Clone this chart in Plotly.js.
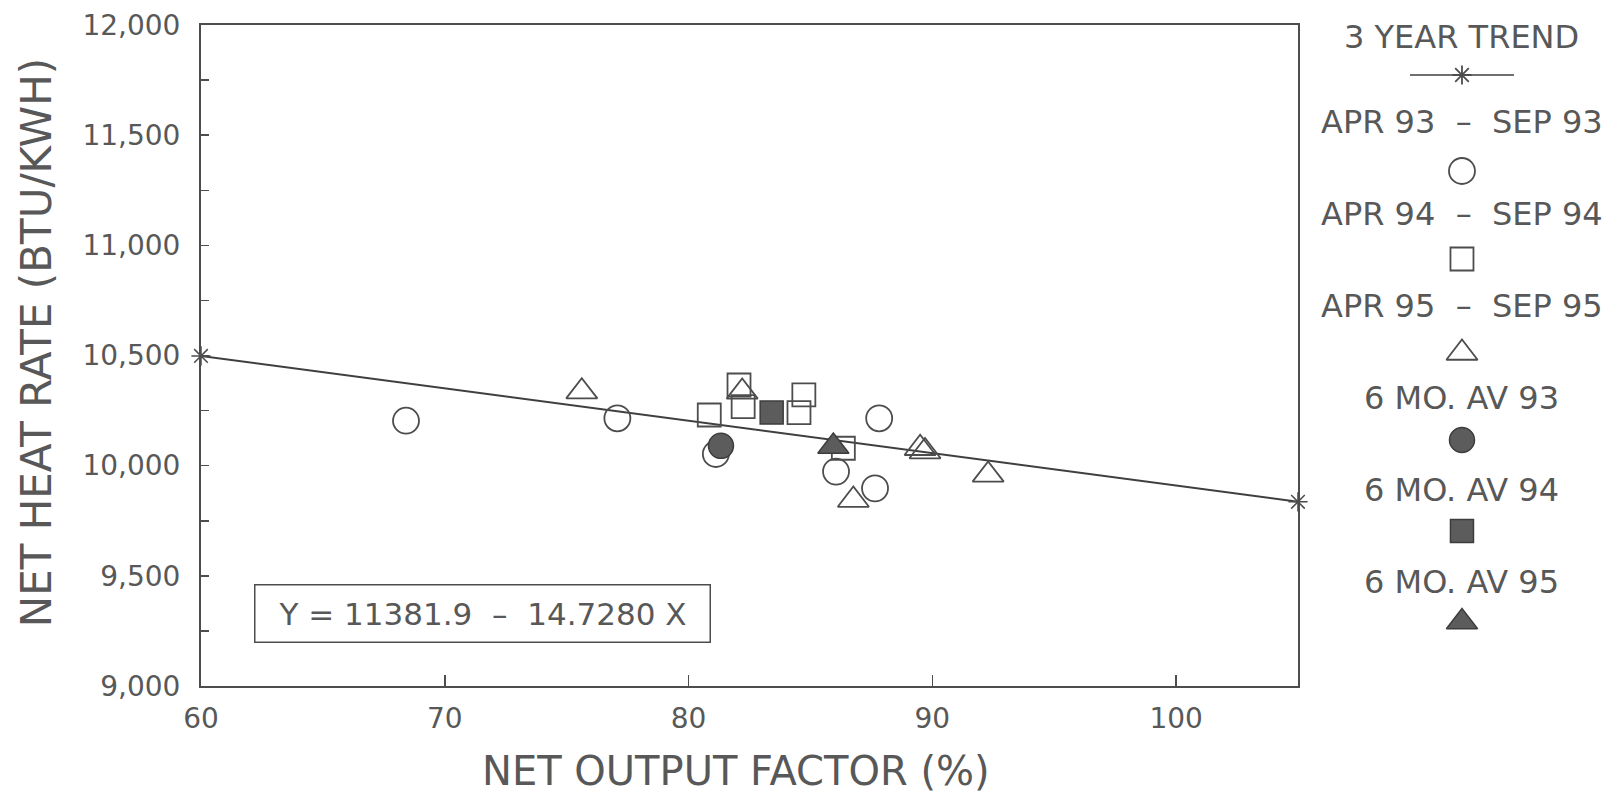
<!DOCTYPE html>
<html>
<head>
<meta charset="utf-8">
<script src="https://cdn.plot.ly/plotly-3.0.1.min.js"></script>
<style>html,body{margin:0;padding:0;background:#fff;}#chart{width:1613px;height:799px;}</style>
</head>
<body>
<div id="chart"></div>
<script>
// ---- data ----
const trendX = [60, 105];
const trendY = [10498, 9836];

const apr93X = [68.41, 77.08, 81.12, 86.05, 87.65, 87.82];
const apr93Y = [10204, 10215, 10053, 9973, 9897, 10215];

const apr94X = [80.85, 82.07, 82.24, 84.73, 84.53, 86.35];
const apr94Y = [10230, 10366, 10268, 10321, 10241, 10079];

const apr95X = [75.62, 82.2, 86.76, 89.5, 89.7, 92.29];
const apr95Y = [10336, 10335, 9844, 10079, 10064, 9958];

const avg93X = [81.33], avg93Y = [10090];
const avg94X = [83.41], avg94Y = [10241];
const avg95X = [85.94], avg95Y = [10087];

const legendLabels = ['3 YEAR TREND', 'APR 93 \u00a0\u2013\u00a0 SEP 93', 'APR 94 \u00a0\u2013\u00a0 SEP 94',
  'APR 95 \u00a0\u2013\u00a0 SEP 95', '6 MO. AV 93', '6 MO. AV 94', '6 MO. AV 95'];
const equationText = 'Y = 11381.9 \u00a0\u2013\u00a0 14.7280 X';
const xTitle = 'NET OUTPUT FACTOR (%)';
const yTitle = 'NET HEAT RATE (BTU/KWH)';

// ---- styling ----
const ink = '#4d4d4d';
const txt = '#585858';
const fillc = '#5c5c5c';
const FONT = 'DejaVu Sans';

function openSeries(x, y, symbol, size, xa, ya) {
  return {x: x, y: y, type: 'scatter', mode: 'markers', xaxis: xa || 'x', yaxis: ya || 'y',
    hoverinfo: 'skip', showlegend: false, cliponaxis: false,
    marker: {symbol: symbol, size: size, color: ink, line: {color: ink, width: 1.8}}};
}
function fillSeries(x, y, symbol, size, xa, ya) {
  return {x: x, y: y, type: 'scatter', mode: 'markers', xaxis: xa || 'x', yaxis: ya || 'y',
    hoverinfo: 'skip', showlegend: false, cliponaxis: false,
    marker: {symbol: symbol, size: size, color: fillc, line: {color: '#3d3d3d', width: 1.5}}};
}

const traces = [
  {x: trendX, y: trendY, type: 'scatter', mode: 'lines+markers', hoverinfo: 'skip', showlegend: false,
   cliponaxis: false, line: {color: '#3f3f3f', width: 2},
   marker: {symbol: 'asterisk-open', size: 16, color: ink, line: {color: ink, width: 1.5}}},
  openSeries(apr93X, apr93Y, 'circle-open', 26),
  openSeries(apr94X, apr94Y, 'square-open', 23),
  openSeries(apr95X, apr95Y, 'triangle-up-open', 27),
  fillSeries(avg93X, avg93Y, 'circle', 25),
  fillSeries(avg94X, avg94Y, 'square', 23),
  fillSeries(avg95X, avg95Y, 'triangle-up', 27)
];

// legend samples (drawn in a pixel-unit overlay axis to the right of the plot)
const LX = 1462;
const textYs = [37, 122, 214, 306, 398, 490, 582];
const symYs = [75, 171, 259, 353, 440, 531, 622];
traces.push({x: [LX - 52, LX + 52], y: [symYs[0], symYs[0]], xaxis: 'x2', yaxis: 'y2', type: 'scatter',
  mode: 'lines', hoverinfo: 'skip', showlegend: false, cliponaxis: false, line: {color: '#3f3f3f', width: 1.5}});
traces.push(openSeries([LX], [symYs[0]], 'asterisk-open', 16, 'x2', 'y2'));
traces.push(openSeries([LX], [symYs[1]], 'circle-open', 26, 'x2', 'y2'));
traces.push(openSeries([LX], [symYs[2]], 'square-open', 23, 'x2', 'y2'));
traces.push(openSeries([LX], [symYs[3]], 'triangle-up-open', 27, 'x2', 'y2'));
traces.push(fillSeries([LX], [symYs[4]], 'circle', 25, 'x2', 'y2'));
traces.push(fillSeries([LX], [symYs[5]], 'square', 23, 'x2', 'y2'));
traces.push(fillSeries([LX], [symYs[6]], 'triangle-up', 27, 'x2', 'y2'));

const annotations = legendLabels.map((t, i) => ({
  text: t, xref: 'x2', yref: 'y2', x: LX, y: textYs[i], showarrow: false,
  xanchor: 'center', yanchor: 'middle', font: {family: FONT, size: 32, color: txt}
}));
annotations.push({
  text: equationText, xref: 'paper', yref: 'paper', x: 0.1997, y: 0.11, showarrow: false,
  xanchor: 'center', yanchor: 'middle', font: {family: FONT, size: 31, color: txt},
  bordercolor: ink, borderwidth: 1.5, borderpad: 5, width: 444, height: 46, bgcolor: 'rgba(0,0,0,0)'
});
annotations.push({
  text: yTitle, xref: 'paper', yref: 'paper', x: -0.1169, y: 0.52, textangle: -90, showarrow: false,
  xanchor: 'center', yanchor: 'middle', font: {family: FONT, size: 42, color: txt}
});
annotations.push({
  text: xTitle, xref: 'paper', yref: 'paper', x: 0.379, y: -0.1286, showarrow: false,
  xanchor: 'center', yanchor: 'middle', font: {family: FONT, size: 40, color: txt}
});

const layout = {
  width: 1613, height: 799,
  margin: {l: 201, r: 0, t: 25, b: 113, pad: 0},
  paper_bgcolor: '#ffffff', plot_bgcolor: '#ffffff',
  showlegend: false,
  font: {family: FONT, color: txt},
  xaxis: {
    domain: [0, 0.7769], range: [60, 105], showgrid: false, zeroline: false,
    showline: true, linecolor: ink, linewidth: 2, mirror: true,
    ticks: 'inside', ticklen: 11, tickwidth: 1.5, tickcolor: ink,
    tickvals: [60, 70, 80, 90, 100], ticktext: ['60', '70', '80', '90', '100'],
    tickfont: {family: FONT, size: 28, color: txt}, ticklabelstandoff: 6
  },
  yaxis: {
    range: [9000, 12000], showgrid: false, zeroline: false,
    showline: true, linecolor: ink, linewidth: 2, mirror: true,
    ticks: 'inside', ticklen: 8, tickwidth: 1.5, tickcolor: ink,
    dtick: 500, tick0: 9000, tickformat: ',d',
    minor: {dtick: 250, ticks: 'inside', ticklen: 8, tickwidth: 1.5, tickcolor: ink, showgrid: false},
    tickfont: {family: FONT, size: 28, color: txt}, ticklabelstandoff: 13
  },
  xaxis2: {domain: [0.78, 1], range: [1302.4, 1613], visible: false, fixedrange: true, anchor: 'y2'},
  yaxis2: {domain: [0, 1], range: [686, 25], visible: false, fixedrange: true, anchor: 'x2'},
  annotations: annotations
};

Plotly.newPlot('chart', traces, layout, {staticPlot: true, displayModeBar: false});
</script>
</body>
</html>
